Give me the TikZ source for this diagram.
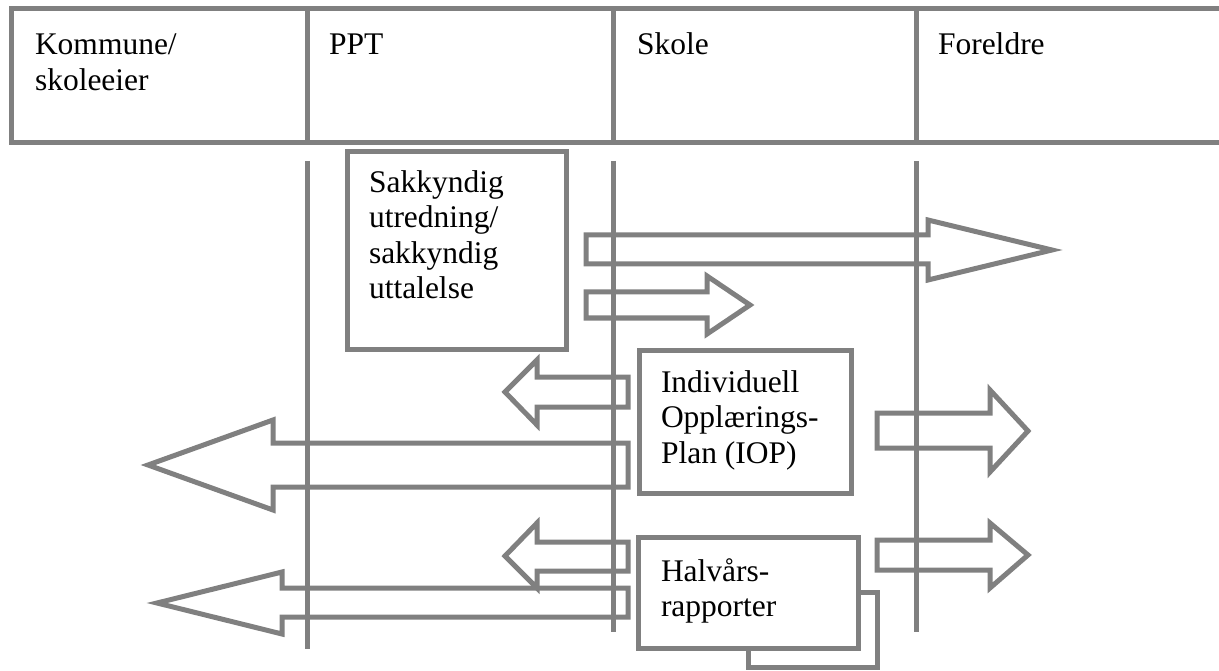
\documentclass[tikz,border=0pt]{standalone}
\usepackage{fontspec}
\setmainfont{Liberation Serif}
\usetikzlibrary{positioning}
\definecolor{lanegray}{HTML}{808080}

\begin{document}
\begin{tikzpicture}[x=1pt,y=-1pt,
	every node/.style={inner sep=0pt,outer sep=0pt},
	celltext/.style={anchor=base west,align=left,font=\fontsize{31.5}{35.5}\selectfont},
	infobox/.style={draw=lanegray,line width=5pt,fill=white},
	blockarrow/.style={draw=lanegray,line width=5pt,fill=white}]
			\useasboundingbox (0,0) rectangle (1219,671);
			% header row
			\begin{scope}[lanegray,line width=5pt]
			\draw (1219,9) -- (11,9) -- (11,143) -- (1219,143);
			\foreach \x in {307,613,916}
			\draw (\x,9) -- (\x,143);
			\end{scope}
			% (base of a multi-line node = its last line)
			\node[celltext] (kommune) at (35,90.5) {Kommune/\\skoleeier};
			\node[celltext] (ppt) at (329,55) {PPT};
			\node[celltext] (skole) at (637,55) {Skole};
			\node[celltext] (foreldre) at (938,55) {Foreldre};
			
			% lanes
			\begin{scope}[lanegray,line width=5pt]
			\draw (307,161) -- (307,649);
			\draw (613,161) -- (613,632);
			\draw (916,161) -- (916,632);
			\end{scope}
			
			% arrows
			\begin{scope}[blockarrow]
			\draw (586,235) -- (928,235) -- (928,220) -- (1052,250) -- (928,280) -- (928,264) -- (586,264) -- cycle;
			\draw (586,292) -- (707,292) -- (707,276) -- (750,305) -- (707,334) -- (707,318) -- (586,318) -- cycle;
			\draw (628,377) -- (537,377) -- (537,360) -- (505,392) -- (537,425) -- (537,407) -- (628,407) -- cycle;
			\draw (628,443) -- (273,443) -- (273,420) -- (148,465) -- (273,510) -- (273,487) -- (628,487) -- cycle;
			\draw (877,413) -- (990,413) -- (990,390) -- (1028,431) -- (990,472) -- (990,448) -- (877,448) -- cycle;
			\draw (628,542) -- (537,542) -- (537,523) -- (505,556) -- (537,588) -- (537,571) -- (628,571) -- cycle;
			\draw (628,588) -- (282,588) -- (282,572) -- (157,603) -- (282,634) -- (282,617) -- (628,617) -- cycle;
			\draw (877,540) -- (990,540) -- (990,523) -- (1028,555) -- (990,588) -- (990,570) -- (877,570) -- cycle;
			\end{scope}
			
			% boxes
			\node[infobox,minimum width=219pt,minimum height=197pt] (sakk) at (456.5,250.5) {};
			\node[celltext] (sakktxt) at (369,298.5) {Sakkyndig\\utredning/\\sakkyndig\\uttalelse};
			\node[infobox,minimum width=212pt,minimum height=143pt] (iop) at (745,421.5) {};
			\node[celltext] (ioptxt) at (661,463) {Individuell\\Opplærings-\\Plan (IOP)};
			\node[infobox,minimum width=129pt,minimum height=75pt] (halvskygge) at (812.5,629.5) {};
			\node[infobox,minimum width=220pt,minimum height=111pt] (halv) at (748,592.5) {};
			\node[celltext] (halvtxt) at (661,616.5) {Halvårs-\\rapporter};
\end{tikzpicture}
\end{document}
